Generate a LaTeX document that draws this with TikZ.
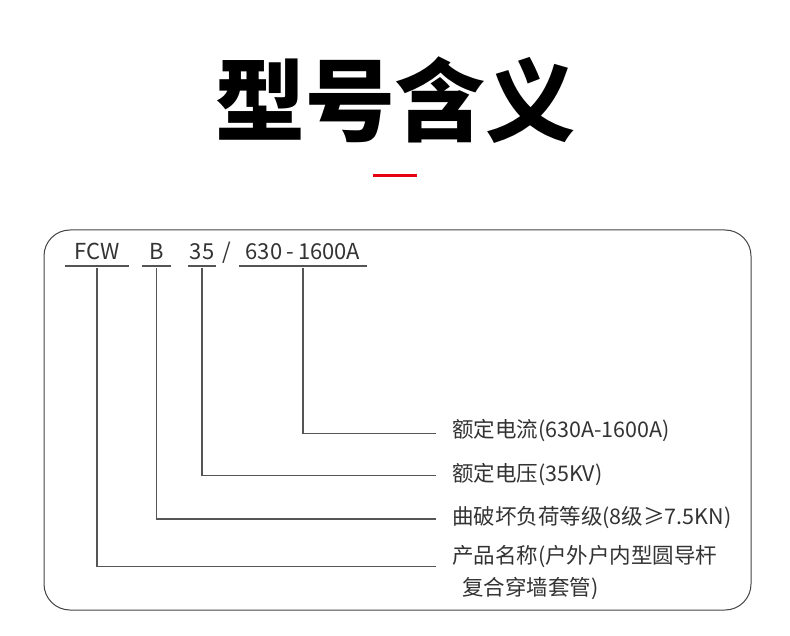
\documentclass[tikz,border=0pt]{standalone}
\usepackage{fontspec}
\usepackage{xcolor}
\usepackage{tikz}
\usetikzlibrary{positioning}
\newfontfamily\cjk{Noto Sans CJK SC}
\definecolor{mred}{HTML}{E60012}
\definecolor{mtext}{HTML}{333333}
\definecolor{mline}{HTML}{555555}
\definecolor{mframe}{HTML}{444444}

\begin{document}
\begin{tikzpicture}[x=1pt, y=-1pt,
  code/.style={font=\cjk\fontsize{22}{22}\selectfont, text=mtext, anchor=south,
    inner ysep=6pt, inner xsep=0pt},
  label/.style={font=\cjk\fontsize{21.5}{32}\selectfont, text=mtext, anchor=base west,
    inner sep=0pt, align=left},
  uline/.style={mline, line width=1.2pt},
  link/.style={mline, line width=1.2pt, shorten <=2pt}]

  \useasboundingbox (0,0) rectangle (790,636);
  \fill[white] (0,0) rectangle (790,636);

  %% Title
  \node[font=\cjk\bfseries\fontsize{90}{90}\selectfont, anchor=base] (title) at (395,135)
    {型号含义};
  \draw[mred, line width=3pt] (373,175.5) -- (417,175.5);

  %% Frame
  \draw[mframe, line width=1pt, rounded corners=26pt] (44,230) rectangle (751,610);

  %% Model code
  \node[code, minimum width=63pt] (fcw) at (97,266) {FCW};
  \node[code, minimum width=28pt] (b) at (156.5,266) {B};
  \node[code, minimum width=28pt] (kv) at (202,266) {35};
  \node[code, anchor=base] (slash) at (227,260) {/};
  \node[code, minimum width=128pt] (amp) at (303,266) {630\hspace{4pt}-\hspace{4pt}1600A};
  \foreach \n in {fcw,b,kv,amp}
    \draw[uline] (\n.south west) -- (\n.south east);

  %% Meanings (base of a two-line node is its last line)
  \node[label] (rcur) at (452,437) {额定电流(630A-1600A)};
  \node[label] (rvol) at (452,481) {额定电压(35KV)};
  \node[label] (load) at (452,524) {曲破坏负荷等级(8级≥7.5KN)};
  \node[label] (name) at (452,595)
    {产品名称(户外户内型圆导杆\\\hspace{10pt}复合穿墙套管)};

  \coordinate (e1) at (436,433.3);
  \coordinate (e2) at (436,475.5);
  \coordinate (e3) at (436,519);
  \coordinate (e4) at (436,566.5);

  \draw[link] (amp.south) |- (e1);
  \draw[link] (kv.south) |- (e2);
  \draw[link] (b.south) |- (e3);
  \draw[link] (fcw.south) |- (e4);

\end{tikzpicture}
\end{document}
